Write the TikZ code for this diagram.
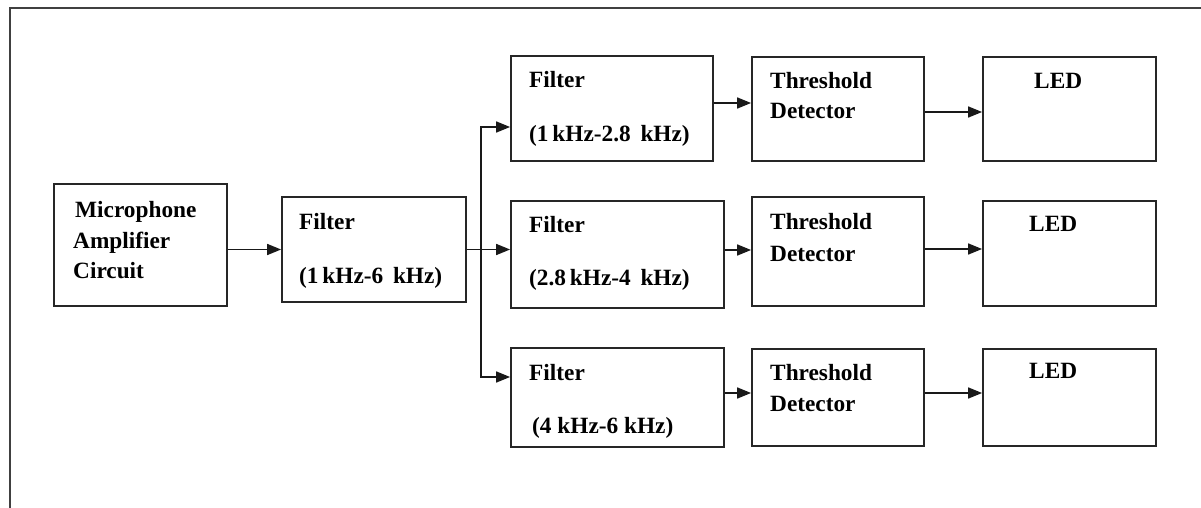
\documentclass[tikz,border=0pt]{standalone}
\usepackage{fontspec}
\setmainfont{Liberation Serif}
\usetikzlibrary{arrows.meta}
\begin{document}
\begin{tikzpicture}[x=1pt,y=-1pt,
  blk/.style={draw=black!85,line width=1.8pt,rectangle,inner sep=0pt},
  arr/.style={draw=black!90,line width=1.6pt,-{Triangle[length=14pt,width=11pt]}},
  lbl/.style={anchor=base west,inner sep=0pt,font=\fontsize{23.3}{27}\selectfont\bfseries}]
\useasboundingbox (0,0) rectangle (1201,508);
\fill[white] (0,0) rectangle (1201,508);
\draw[black!75,line width=2.2pt] (10,508) -- (10,8) -- (1201,8);
% boxes
\node[blk,minimum width=173pt,minimum height=122pt] (mic) at (140.5,245) {};
\node[blk,minimum width=184pt,minimum height=105pt] (filt) at (374,249.5) {};
\node[blk,minimum width=202pt,minimum height=105pt] (f1) at (612,108.5) {};
\node[blk,minimum width=213pt,minimum height=107pt] (f2) at (617.5,254.5) {};
\node[blk,minimum width=213pt,minimum height=99pt] (f3) at (617.5,397.5) {};
\node[blk,minimum width=172pt,minimum height=104pt] (t1) at (838,109) {};
\node[blk,minimum width=172pt,minimum height=109pt] (t2) at (838,251.5) {};
\node[blk,minimum width=172pt,minimum height=97pt] (t3) at (838,397.5) {};
\node[blk,minimum width=173pt,minimum height=104pt] (l1) at (1069.5,109) {};
\node[blk,minimum width=173pt,minimum height=105pt] (l2) at (1069.5,253.5) {};
\node[blk,minimum width=173pt,minimum height=97pt] (l3) at (1069.5,397.5) {};
% texts
\node[lbl] (micA) at (75,217) {Microphone};
\node[lbl] (micB) at (73,248) {Amplifier};
\node[lbl] (micC) at (73,278) {Circuit};
\node[lbl] (filtA) at (299,229) {Filter};
\node[lbl] (filtB) at (299,283) {(1\,kHz-6 \,kHz)};
\node[lbl] (f1A) at (529,88) {Filter};
\node[lbl] (f1B) at (529,141) {(1\,kHz-2.8 \,kHz)};
\node[lbl] (f2A) at (529,232) {Filter};
\node[lbl] (f2B) at (529,285) {(2.8\,kHz-4 \,kHz)};
\node[lbl] (f3A) at (529,380) {Filter};
\node[lbl] (f3B) at (532,433) {(4 kHz-6 kHz)};
\node[lbl] (t1A) at (770,89) {Threshold};
\node[lbl] (t1B) at (770,119) {Detector};
\node[lbl] (t2A) at (770,229) {Threshold};
\node[lbl] (t2B) at (770,261) {Detector};
\node[lbl] (t3A) at (770,380) {Threshold};
\node[lbl] (t3B) at (770,411) {Detector};
\node[lbl] (l1A) at (1034,89) {LED};
\node[lbl] (l2A) at (1029,231) {LED};
\node[lbl] (l3A) at (1029,378) {LED};
% connectors
\coordinate (br) at (481,250);
\draw[arr] (mic.east |- filt.west) -- (filt.west);
\draw[arr] (filt.east) -- (filt.east -| f2.west);
\draw[arr] (filt.east -| br) |- ([yshift=-18.5pt]f1.west);
\draw[arr] (filt.east -| br) |- ([yshift=20.5pt]f3.west);
\draw[arr] ([yshift=5.5pt]f1.east) -- ([yshift=5.5pt]f1.east -| t1.west);
\draw[arr] ([yshift=4.5pt]f2.east) -- ([yshift=4.5pt]f2.east -| t2.west);
\draw[arr] ([yshift=4.5pt]f3.east) -- ([yshift=4.5pt]f3.east -| t3.west);
\draw[arr] ([yshift=-3pt]t1.east) -- ([yshift=-3pt]t1.east -| l1.west);
\draw[arr] ([yshift=2.5pt]t2.east) -- ([yshift=2.5pt]t2.east -| l2.west);
\draw[arr] ([yshift=4.5pt]t3.east) -- ([yshift=4.5pt]t3.east -| l3.west);
\end{tikzpicture}
\end{document}
